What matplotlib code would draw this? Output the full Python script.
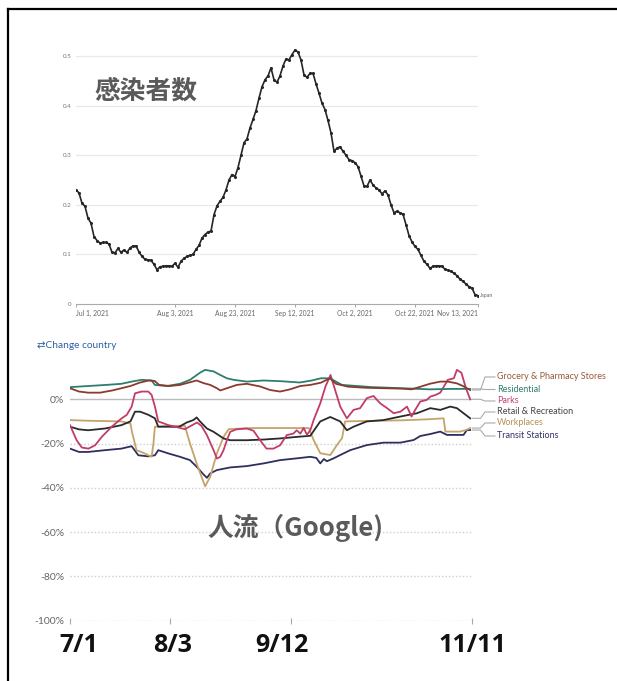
import matplotlib
matplotlib.use('Agg')
import matplotlib.pyplot as plt
import matplotlib.transforms as mtransforms
from matplotlib.lines import Line2D
import numpy as np

# ---------------- data ----------------
# Top chart: daily infections, day 0 = Jul 1, 2021
inf_vals = [
    .230, .224, .203, .197, .173, .163, .136, .128, .123, .124,
    .124, .121, .104, .103, .112, .104, .109, .104, .113, .117,
    .117, .105, .096, .090, .089, .088, .080, .069, .075, .076,
    .077, .077, .076, .082, .074, .086, .092, .096, .098, .100,
    .110, .118, .133, .140, .145, .147, .180, .198, .207, .215,
    .230, .250, .261, .257, .275, .300, .325, .333, .355, .372,
    .390, .415, .438, .452, .460, .476, .452, .447, .460, .480,
    .494, .492, .503, .512, .508, .492, .462, .457, .465, .465,
    .444, .425, .405, .392, .370, .345, .308, .314, .317, .308,
    .300, .291, .289, .285, .277, .258, .238, .237, .250, .240,
    .234, .230, .222, .228, .220, .200, .184, .187, .184, .181,
    .160, .138, .125, .116, .110, .098, .086, .080, .072, .076,
    .077, .077, .076, .070, .068, .066, .062, .057, .050, .046,
    .040, .035, .032, .019, .017]
inf_days = np.arange(len(inf_vals))
top_yticks = [0, 0.1, 0.2, 0.3, 0.4, 0.5]
top_ytick_labels = ['0', '0.1', '0.2', '0.3', '0.4', '0.5']
top_xtick_days = [0, 33, 53, 73, 93, 113, 134]
top_xtick_labels = ['Jul 1, 2021', 'Aug 3, 2021', 'Aug 23, 2021', 'Sep 12, 2021',
                    'Oct 2, 2021', 'Oct 22, 2021', 'Nov 13, 2021']

# Bottom chart: Google mobility (% change from baseline), day 0 = Jul 1
grocery_days = [0, 3, 6, 10, 14, 17, 20, 23, 26, 28, 29.5, 33, 36.4, 38.6, 41.9, 44.2, 46.4,
                48.6, 49.7, 51.9, 55.2, 58.5, 62.9, 66.2, 69.5, 72.8, 76.2, 79.5, 83, 86, 88,
                92, 98, 104, 110, 113, 116, 119, 122.5, 125, 128, 130, 132.4]
grocery_vals = [5, 3.5, 3, 3, 4, 5, 6, 7.5, 8.5, 8.3, 6.5, 6, 6.5, 7.3, 8.5, 7.3, 6.5,
                5, 4, 5, 6.5, 7, 5.8, 4.2, 3.5, 4.5, 6, 6.5, 7.5, 9.5, 7,
                5.7, 5.2, 5, 4.8, 4.5, 5.7, 7, 8, 8, 7.2, 6, 4.2]

resid_days = [0, 6, 12, 17, 20.4, 23.7, 27, 28.1, 32, 36.4, 39.7, 43, 44.7, 47.5, 49.7,
              51.9, 54.1, 58.5, 64, 69.5, 76, 80, 83, 86, 90, 100, 110, 119, 126, 132.4]
resid_vals = [5.5, 6, 6.5, 7, 8, 8.8, 8.5, 6.5, 6, 7, 8.8, 12, 13.3, 12.6, 11,
              9.5, 8.8, 8, 8.5, 8.2, 7.6, 8.5, 9.5, 9.5, 6.5, 5.5, 5, 4.5, 4.7, 4.7]

parks_days = [0, 2.2, 3.9, 6.1, 8.3, 10.5, 13.8, 17.1, 18.8, 20.4, 21.5, 23.7, 25.9, 27, 28.1,
              29.2, 32.6, 34.8, 38, 40, 42, 43.5, 45.3, 47.5, 48.6, 49.7, 50.8, 51.9, 53, 55,
              58.5, 60.7, 62.9, 65, 67.3, 69.5, 71.7, 73.9, 75, 76.2, 77.3, 78.4, 79.5, 80.6,
              82.8, 84.5, 86.2, 87.2, 89.4, 91.6, 93.8, 96, 98.2, 100.4, 102.6, 104.9, 107.1,
              109.3, 111.5, 113, 114.2, 115.9, 118, 119.2, 121, 122.5, 125, 127, 128, 129.5,
              131, 132.4]
parks_vals = [-11.7, -18.5, -21.8, -22.3, -20.8, -17, -12.4, -8.6, -7, -3.3, 2.7, 3.5, 3.5, 2, -3.3,
              -10, -11.7, -12.4, -13.5, -12, -10.5, -12, -16.2, -23, -26.8, -26, -23, -18.5, -14.7,
              -13.6, -13.2, -14.2, -18.5, -22.3, -22.3, -20.8, -16.2, -15.5, -14, -15.5, -13, -16,
              -14, -9.4, -1.8, 5.7, 11, 6.5, -3.3, -8.6, -4.8, -4, 0.5, 1.5, -1.8, -4, -6.3,
              -5.6, -3.3, -7.8, -4.8, -1, -0.3, 1.2, 2, 3, 8.8, 9.5, 13.3, 12, 5, 0]

retail_days = [0, 3, 6, 11.6, 17, 20, 21.5, 23.2, 25.9, 28.1, 29.2, 32.6, 36, 38.6, 40.8, 41.9,
               43, 45.3, 47.5, 50.8, 53, 58.5, 64, 69.5, 75, 79.5, 82.8, 86.1, 89.4, 91.6, 93.8,
               98.2, 103.7, 109.3, 114.8, 119.2, 122.5, 125.8, 128, 130.2, 132.4]
retail_vals = [-12.4, -13.6, -14, -13.2, -11.7, -10, -5.6, -5.6, -7, -8.6, -12.4, -12.4, -12.5,
               -10.5, -9.4, -8.2, -10, -13.2, -14.7, -17.7, -18.5, -18.5, -18.2, -17.7, -17,
               -16.5, -10, -8, -10, -14, -12.4, -10, -9.4, -7.8, -6.3, -4, -4.8, -3.3, -4,
               -6.3, -8.6]

work_days = [0, 6, 17, 20, 20.5, 22, 24.3, 27, 27.6, 28.1, 33, 38, 39.7, 41.9, 44.7, 46.4, 48.6,
             50.8, 52.5, 60, 70, 79, 80.6, 82.8, 86.1, 87.2, 88.3, 90, 91, 98, 110, 119, 123.6,
             124.2, 129, 131, 132.4]
work_vals = [-9.4, -9.7, -10, -11, -14.7, -23, -24.2, -26, -20, -12.4, -12, -12, -20, -29, -39.4,
             -35, -24.4, -17, -13.5, -13, -13, -13, -18.4, -24.4, -25.2, -23, -20.7, -17.6, -10,
             -9.8, -9.5, -9, -8.6, -14.6, -14.6, -13.9, -13]

transit_days = [0, 3, 6, 11.6, 17, 20.4, 22.6, 25.9, 28.1, 29.2, 32.6, 36.4, 39.7, 41.9, 44.2,
                45.3, 46.4, 48.6, 53, 58.5, 64, 69.5, 75, 79.5, 81.5, 82.8, 84, 85, 87.2, 89.4,
                92.7, 98.2, 103.7, 109.3, 113.7, 115.9, 119.2, 122.5, 124.7, 130.2, 131.3, 132.4]
transit_vals = [-22.3, -23.8, -23.8, -23, -22.3, -21.2, -25.3, -25.8, -25.3, -23, -24.5, -26,
                -27.5, -30.5, -34, -35.5, -33.5, -32, -30.8, -30.2, -29, -27.5, -26.7, -26,
                -26.5, -29, -27, -28, -26.7, -25.2, -23, -20.7, -19.6, -19.6, -18.4, -16.6,
                -15.7, -14.6, -16.1, -16.1, -13.9, -13.9]

bottom_yticks = [0, -20, -40, -60, -80, -100]
bottom_ytick_labels = ['0%', '-20%', '-40%', '-60%', '-80%', '-100%']
bottom_xtick_days = [0, 33, 73, 133]
bottom_xtick_labels = ['7/1', '8/3', '9/12', '11/11']

# ---------------- figure ----------------
W, H = 617, 681
fig = plt.figure(figsize=(W / 100, H / 100), dpi=100)
fig.patch.set_facecolor('white')


def fx(x):
    return x / W


def fy(y):
    return 1 - y / H


LATO = ['Lato', 'DejaVu Sans']
CJK = ['Noto Sans CJK JP', 'DejaVu Sans']

# ---- top chart ----
ax1 = fig.add_axes([fx(76), fy(304), (478 - 76) / W, (304 - 31.2) / H])
ax1.set_xlim(0, 134)
ax1.set_ylim(0, 0.55)
for v in top_yticks[1:]:
    ax1.axhline(v, color='#e9e9e9', lw=0.9, zorder=0)
ax1.plot(inf_days, inf_vals, color='#262626', lw=1.2, marker='o', ms=1.2, zorder=3)
ax1.set_yticks(top_yticks)
ax1.set_yticklabels(top_ytick_labels, fontfamily=LATO)
ax1.tick_params(axis='y', length=0, pad=3, labelsize=4.5, labelcolor='#777777')
ax1.set_xticks(top_xtick_days)
xl = ax1.set_xticklabels(top_xtick_labels, fontfamily=LATO)
xl[0].set_ha('left')
xl[-1].set_ha('right')
ax1.tick_params(axis='x', length=2.5, width=0.6, color='#999999', labelsize=4.9,
                labelcolor='#666666', pad=2)
for s in ['top', 'right', 'left']:
    ax1.spines[s].set_visible(False)
ax1.spines['bottom'].set_color('#aaaaaa')
ax1.spines['bottom'].set_linewidth(0.8)
ax1.text(1.006, inf_vals[-1], 'Japan', transform=mtransforms.blended_transform_factory(
    ax1.transAxes, ax1.transData), fontsize=3.8, color='#666666', va='center',
    fontfamily=LATO, clip_on=False)

fig.text(fx(146), fy(91), '感染者数', fontsize=18.5, color='#5a5a5a', ha='center', va='center',
         fontfamily=CJK, fontweight='bold')

# ---- bottom chart ----
fig.text(fx(37), fy(346), '⇄Change country', fontsize=7.3, color='#2d5ea8', ha='left',
         va='center', fontfamily=LATO)

ax2 = fig.add_axes([fx(70), fy(620.5), 402 / W, (620.5 - 363.9) / H])
ax2.set_xlim(0, 133)
ax2.set_ylim(-100, 16)
for s in ax2.spines.values():
    s.set_visible(False)
for v in bottom_yticks[1:]:
    ax2.axhline(v, color='#cfcfcf', lw=1.0, ls=(0, (1, 1.5)), zorder=0)
ax2.axhline(0, color='#bbbbbb', lw=1.0, zorder=0)

series = [
    (transit_days, transit_vals, '#2f2f5e', '#333366'),
    (work_days, work_vals, '#c4a46a', '#b39256'),
    (retail_days, retail_vals, '#2a2a2a', '#444444'),
    (parks_days, parks_vals, '#c23b6a', '#c0447a'),
    (resid_days, resid_vals, '#2e7d6e', '#2e7d6e'),
    (grocery_days, grocery_vals, '#8a3b2e', '#9a5a3a'),
]
names_in_order = ['Transit Stations', 'Workplaces', 'Retail & Recreation', 'Parks',
                  'Residential', 'Grocery & Pharmacy Stores']
for (d, v, c, lc) in series:
    ax2.plot(d, v, color=c, lw=1.3, zorder=3)

label_pix_y = {'Grocery & Pharmacy Stores': 377, 'Residential': 389.5, 'Parks': 401,
               'Retail & Recreation': 412, 'Workplaces': 423, 'Transit Stations': 436}


def pct_of(ypix):
    return (399.3 - ypix) / 2.212


for (d, v, c, lc), name in zip(series, names_in_order):
    ylab = pct_of(label_pix_y[name])
    yend = v[-1]
    ax2.plot([d[-1] + 0.8, 135.8, 137.3, 140.6], [yend, yend, ylab, ylab],
             color='#aaaaaa', lw=0.8, clip_on=False, zorder=2)
    ax2.text(141.3, ylab, name, color=lc, fontsize=6.5, va='center', ha='left',
             fontfamily=LATO, clip_on=False)

ax2.set_yticks(bottom_yticks)
ax2.set_yticklabels(bottom_ytick_labels, fontfamily=LATO)
ax2.tick_params(axis='y', length=0, pad=4, labelsize=7.5, labelcolor='#666666')
ax2.set_xticks(bottom_xtick_days)
ax2.set_xticklabels([''] * len(bottom_xtick_days))
ax2.tick_params(axis='x', direction='inout', length=5, width=0.8, color='#aaaaaa')

label_offsets_px = [8.6, 3, -8.5, 0]
btrans = mtransforms.blended_transform_factory(ax2.transData, fig.transFigure)
for d, lab, off in zip(bottom_xtick_days, bottom_xtick_labels, label_offsets_px):
    tr = btrans + mtransforms.ScaledTranslation(off / 100, 0, fig.dpi_scale_trans)
    ax2.text(d, fy(645.5), lab, transform=tr, fontsize=18, fontweight='bold',
             color='#111111', ha='center', va='center',
             fontfamily=['Open Sans', 'DejaVu Sans'], clip_on=False)

fig.text(fx(295), fy(528), '人流（Google)', fontsize=18.5, color='#5a5a5a', ha='center',
         va='center', fontfamily=CJK, fontweight='bold')

# outer frame (left and top edges visible)
fig.add_artist(Line2D([fx(7.5), fx(7.5)], [fy(8.5), fy(681)], color='black', lw=1.6,
                      transform=fig.transFigure))
fig.add_artist(Line2D([fx(7.5), fx(617)], [fy(8.5), fy(8.5)], color='black', lw=1.6,
                      transform=fig.transFigure))

fig.savefig('out.png', dpi=100, facecolor='white')
